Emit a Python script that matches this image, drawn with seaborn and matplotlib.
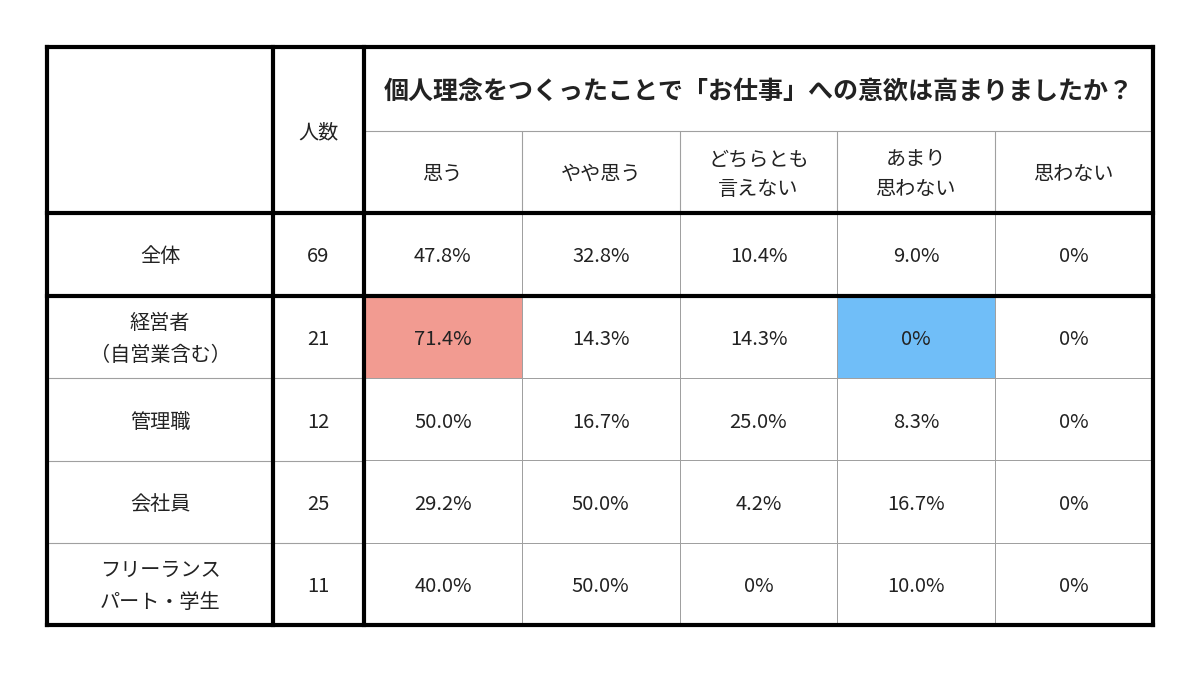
import numpy as np
import pandas as pd
import seaborn as sns
import matplotlib.pyplot as plt
from matplotlib.colors import ListedColormap

sns.set_theme(style='white')
plt.rcParams['font.family'] = ['Noto Sans CJK JP', 'DejaVu Sans']

# data
title = '個人理念をつくったことで「お仕事」への意欲は高まりましたか？'
groups = ['全体', '経営者\n（自営業含む）', '管理職', '会社員', 'フリーランス\nパート・学生']
counts = [69, 21, 12, 25, 11]
answers = ['思う', 'やや思う', 'どちらとも\n言えない', 'あまり\n思わない', '思わない']
omou = [47.8, 71.4, 50.0, 29.2, 40.0]
yaya = [32.8, 14.3, 16.7, 50.0, 50.0]
dochira = [10.4, 14.3, 25.0, 4.2, 0.0]
amari = [9.0, 0.0, 8.3, 16.7, 10.0]
omowanai = [0.0, 0.0, 0.0, 0.0, 0.0]
# highlighted cells: (row, col, colour code) 1 = pink, 2 = blue
highlights = [(1, 0, 1), (1, 3, 2)]

df = pd.DataFrame({answers[0]: omou, answers[1]: yaya, answers[2]: dochira,
                   answers[3]: amari, answers[4]: omowanai}, index=groups)
labels = df.map(lambda v: '0%' if v == 0 else f'{v:.1f}%')

colour_code = np.zeros(df.shape)
for r, c, k in highlights:
    colour_code[r, c] = k

# table geometry in pixels
W, H = 1200, 675
left, mid, body_l, body_r = 47, 273, 364, 1153
col_edges = [left, mid] + list(np.linspace(body_l, body_r, len(answers) + 1))
row_edges = [47, 131, 213, 296, 378, 461, 543, 625]
txt = '#222222'
thin = '#a0a0a0'
fs = 14.5
dy = 2.5  # small downward nudge, CJK font sits high

fig = plt.figure(figsize=(12, 6.75), dpi=100)

# body cells as a heatmap
hx = fig.add_axes([body_l / W, (H - row_edges[-1]) / H,
                   (body_r - body_l) / W, (row_edges[-1] - row_edges[2]) / H])
sns.heatmap(colour_code, ax=hx, cmap=ListedColormap(['white', '#F29B91', '#70BEF8']),
            vmin=-0.5, vmax=2.5, cbar=False, annot=False,
            linewidths=0.5, linecolor=thin, xticklabels=False, yticklabels=False)

# overlay for text and borders
ax = fig.add_axes([0, 0, 1, 1])
ax.set_xlim(0, W)
ax.set_ylim(H, 0)
ax.patch.set_alpha(0)
ax.axis('off')

# header texts
ax.text((body_l + body_r) / 2, (row_edges[0] + row_edges[1]) / 2 + dy, title,
        ha='center', va='center', fontsize=18, fontweight='bold', color=txt)
ax.text((mid + body_l) / 2, (row_edges[0] + row_edges[2]) / 2 + dy, '人数',
        ha='center', va='center', fontsize=fs, color=txt)
for i, a in enumerate(answers):
    ax.text((col_edges[i + 2] + col_edges[i + 3]) / 2, (row_edges[1] + row_edges[2]) / 2 + dy, a,
            ha='center', va='center', fontsize=fs, color=txt, linespacing=1.55)

# row labels, counts and percentages
for i, (g, n) in enumerate(zip(groups, counts)):
    yc = (row_edges[i + 2] + row_edges[i + 3]) / 2 + dy
    ax.text((left + mid) / 2, yc, g, ha='center', va='center',
            fontsize=fs, color=txt, linespacing=1.65)
    ax.text((mid + body_l) / 2, yc, str(n), ha='center', va='center',
            fontsize=fs, color=txt)
    for j in range(len(answers)):
        ax.text((col_edges[j + 2] + col_edges[j + 3]) / 2, yc, labels.iloc[i, j],
                ha='center', va='center', fontsize=fs, color=txt)

# thin grid lines
ax.plot([body_l, body_r], [row_edges[1]] * 2, color=thin, lw=0.8)
for y in row_edges[4:-1]:
    ax.plot([left, body_l], [y, y], color=thin, lw=0.8)
for x in col_edges[3:-1]:
    ax.plot([x, x], [row_edges[1], row_edges[2]], color=thin, lw=0.8)

# thick borders
for y in [row_edges[0], row_edges[2], row_edges[3], row_edges[-1]]:
    ax.plot([left, body_r], [y, y], color='black', lw=3, solid_capstyle='projecting')
for x in [left, mid, body_l, body_r]:
    ax.plot([x, x], [row_edges[0], row_edges[-1]], color='black', lw=3, solid_capstyle='projecting')

fig.savefig('out.png', dpi=100, facecolor='white')
